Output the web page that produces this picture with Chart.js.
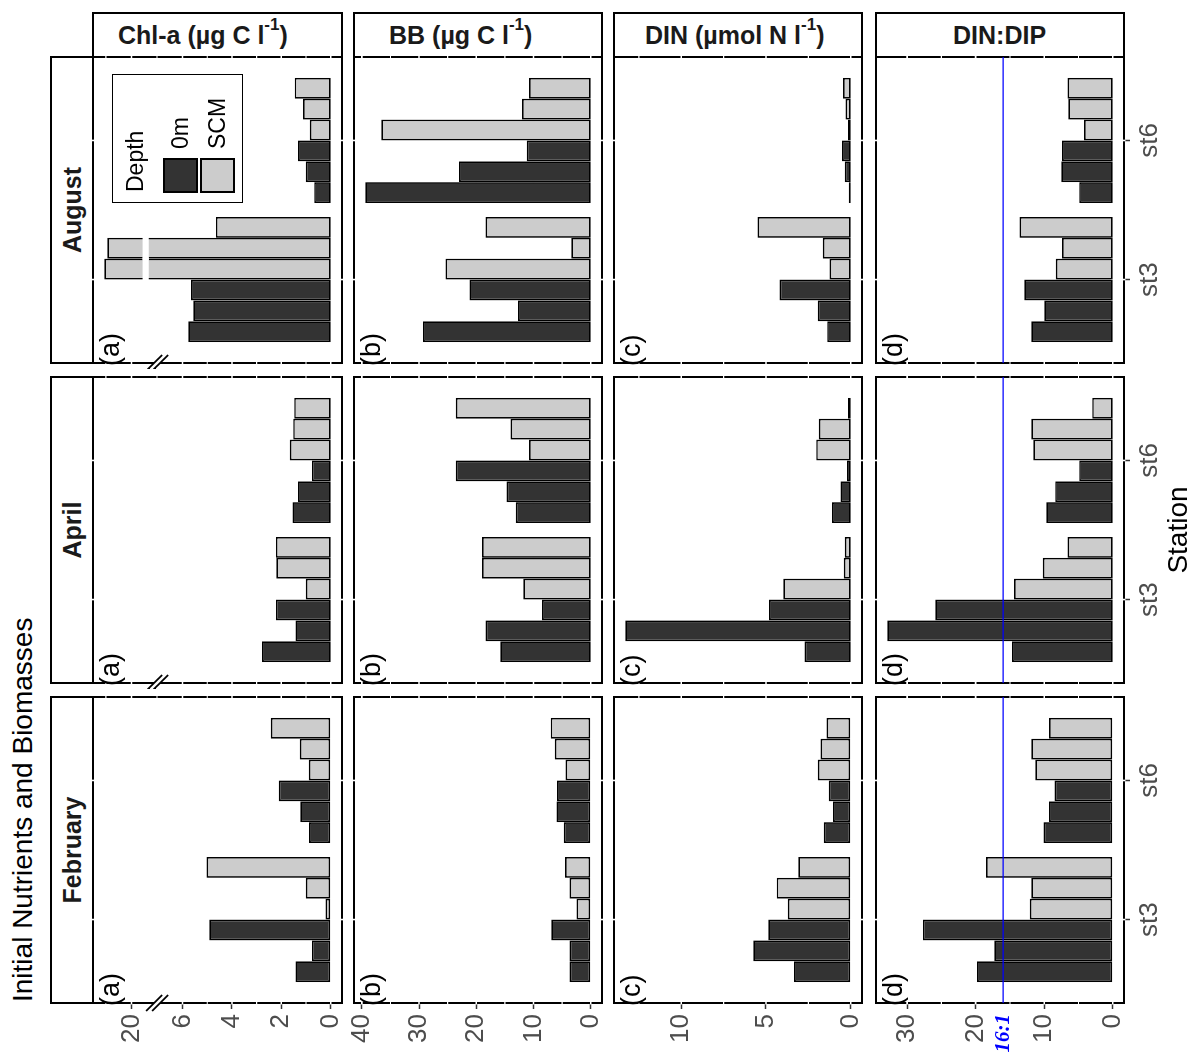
<!DOCTYPE html>
<html lang="en">
<head>
<meta charset="utf-8">
<title>Initial Nutrients and Biomasses</title>
<script src="https://cdn.jsdelivr.net/npm/chart.js@4.4.1/dist/chart.umd.min.js"></script>
<style>
  html, body { margin: 0; padding: 0; background: #fff; }
  body { width: 1200px; height: 1052px; overflow: hidden; position: relative; font-family: "Liberation Sans", Arial, sans-serif; }
  /* the figure is laid out upright (months across, variables down) and then turned a quarter turn */
  #fig { position: absolute; left: 0; top: 0; width: 1052px; height: 1200px; transform-origin: 0 0; transform: translate(0, 1052px) rotate(-90deg); }
  #fig > * { position: absolute; }
  .strip { box-sizing: border-box; border: 2px solid #000; background: #fff; display: flex; align-items: center; justify-content: center; font-weight: bold; font-size: 25px; color: #1a1a1a; white-space: nowrap; }
  .vstrip { writing-mode: vertical-rl; }
  .vstrip span { position: relative; }
  .strip sup { font-size: 17px; line-height: 0; }
  .title { font-size: 28px; line-height: 1; color: #000; white-space: nowrap; }
  .tag { font-size: 27px; line-height: 1; color: #000; white-space: nowrap; }
  .legend { box-sizing: border-box; border: 1px solid #000; background: #fff; font-size: 23px; line-height: 1; color: #000; }
  .legend > * { position: absolute; white-space: nowrap; }
  .key { box-sizing: border-box; width: 35px; height: 35px; border: 2px solid #000; }
</style>
</head>
<body>
<div id="fig"></div>
<script>
// facets
const months = ['February', 'April', 'August'];
const stations = ['st3', 'st6'];
const depths = ['0m', 'SCM'];

// each panel: st3 then st6; per station 0m replicates 1-3, then SCM replicates 1-3
const chlFeb = [1.43, 0.76, 4.92, 0.21, 1.01, 5.03,  0.88, 1.23, 2.10, 0.89, 1.25, 2.43];
const chlApr = [2.78, 1.43, 2.22, 1.01, 2.20, 2.22,  1.55, 1.32, 0.76, 1.66, 1.52, 1.48];
const chlAug = [5.77, 5.57, 5.66, 21.1, 20.98, 4.65,  0.67, 1.01, 1.32, 0.85, 1.12, 1.46];
const bbFeb = [3.7, 3.7, 6.9, 2.5, 3.7, 4.5,  4.7, 6.0, 5.9, 4.4, 6.3, 7.0];
const bbApr = [15.8, 18.4, 8.5, 11.8, 19.0, 19.0,  13.1, 14.7, 23.6, 10.8, 14.0, 23.6];
const bbAug = [29.3, 12.7, 21.2, 25.4, 3.4, 18.4,  39.4, 23.0, 11.2, 36.6, 12.0, 10.8];
const dinFeb = [3.35, 5.75, 4.86, 3.71, 4.37, 3.10,  1.59, 1.04, 1.29, 1.94, 1.78, 1.43];
const dinApr = [2.73, 13.3, 4.82, 3.98, 0.41, 0.35,  1.10, 0.61, 0.22, 2.04, 1.88, 0.16];
const dinAug = [1.39, 1.94, 4.2, 1.25, 1.65, 5.5,  0.12, 0.35, 0.51, 0.16, 0.31, 0.45];
const ratioFeb = [19.8, 17.3, 27.7, 12.1, 11.9, 18.5,  10.1, 9.3, 8.5, 11.3, 11.9, 9.3];
const ratioApr = [14.7, 32.9, 25.9, 14.4, 10.2, 6.6,  9.7, 8.4, 4.9, 11.6, 11.9, 3.0];
const ratioAug = [11.9, 10.0, 12.9, 8.3, 7.4, 13.6,  4.9, 7.5, 7.4, 4.2, 6.5, 6.6];

// value axis ticks
const chlTicks = [0, 2, 4, 6, 20];
const bbTicks = [0, 10, 20, 30, 40];
const dinTicks = [0, 5, 10];
const ratioTicks = [0, 10, 20, 30];
const redfield = 16; // DIN:DIP reference, labelled 16:1

// Chl-a axis is broken: everything above the break is pulled down so 20 sits just past 6
const chlBreak = 7, chlShift = 11.93;
const chlGap = [19.3, 19.55]; // white cut through the long bars

const FONT = '"Liberation Sans", Arial, sans-serif';
Chart.defaults.font.family = FONT;

const rows = [
  {data: [chlFeb, chlApr, chlAug], ticks: chlTicks, tag: '(a)', label: 'Chl-a (µg C l<sup>-1</sup>)', shift: -15},
  {data: [bbFeb, bbApr, bbAug], ticks: bbTicks, tag: '(b)', label: 'BB (µg C l<sup>-1</sup>)', shift: -17},
  {data: [dinFeb, dinApr, dinAug], ticks: dinTicks, tag: '(c)', label: 'DIN (µmol N l<sup>-1</sup>)', shift: -3},
  {data: [ratioFeb, ratioApr, ratioAug], ticks: ratioTicks, tag: '(d)', label: 'DIN:DIP', shift: 0}
];

// panel boxes in the upright figure
const colLeft = [49, 369, 689], colRight = [355, 675, 995];
const rowTop = [93, 354, 614, 876], rowBottom = [342, 602, 862, 1124];

const toBroken = v => v > chlBreak ? v - chlShift : v;

// linear scale with the Chl-a break folded in
const LinearScale = Chart.LinearScale || Chart.registry.getScale('linear');
class BrokenScale extends LinearScale {
  getPixelForValue(v) { return super.getPixelForValue(toBroken(v)); }
  getValueForPixel(p) { const t = super.getValueForPixel(p); return t > chlBreak ? t + chlShift : t; }
}
BrokenScale.id = 'broken';
BrokenScale.defaults = LinearScale.defaults;
Chart.register(BrokenScale);

// ggplot-like expansion: 5% on each side of [0, max]
rows.forEach((row, r) => {
  const all = row.data.flat().map(r === 0 ? toBroken : v => v);
  const top = Math.max(...all);
  row.min = -0.05 * top;
  row.max = 1.05 * top;
});

// frame, white grid lines (visible only where they cross the frame), break marks, 16:1 line
const panelPlugin = {
  id: 'panel',
  beforeDatasetsDraw(chart, args, o) {
    const {ctx, chartArea: a} = chart;
    const ys = chart.scales.y, xs = chart.scales.x;
    ctx.save();
    ctx.strokeStyle = '#000';
    ctx.lineWidth = 2;
    ctx.strokeRect(a.left, a.top, a.right - a.left, a.bottom - a.top);
    const major = o.grid.map(v => ys.getPixelForValue(v));
    const lines = major.map(p => [p, 1.6]);
    for (let i = 1; i < major.length; i++) lines.push([(major[i - 1] + major[i]) / 2, 1.1]);
    const n = major.length;
    lines.push([major[n - 1] + (major[n - 1] - major[n - 2]) / 2, 1.1]);
    ctx.strokeStyle = '#fff';
    lines.forEach(([p, w]) => {
      if (p < a.top || p > a.bottom) return;
      ctx.lineWidth = w;
      ctx.beginPath(); ctx.moveTo(a.left - 1.5, p); ctx.lineTo(a.right + 1.5, p); ctx.stroke();
    });
    stations.forEach((s, i) => {
      const p = xs.getPixelForValue(i + 1);
      ctx.lineWidth = 1.6;
      ctx.beginPath(); ctx.moveTo(p, a.top - 1.5); ctx.lineTo(p, a.bottom + 1.5); ctx.stroke();
    });
    ctx.restore();
  },
  afterDatasetsDraw(chart, args, o) {
    const {ctx, chartArea: a} = chart;
    const ys = chart.scales.y;
    ctx.save();
    if (o.gap) {
      const g0 = ys.getPixelForValue(o.gap[1]), g1 = ys.getPixelForValue(o.gap[0]);
      ctx.fillStyle = '#fff';
      chart.data.datasets.forEach((ds, i) => {
        chart.getDatasetMeta(i).data.forEach((bar, j) => {
          if (ds.data[j].y > o.gap[1]) ctx.fillRect(bar.x - bar.width / 2 - 1.5, g0, bar.width + 3, g1 - g0);
        });
      });
    }
    if (o.refLine != null) {
      const p = ys.getPixelForValue(o.refLine);
      ctx.strokeStyle = '#0000ff';
      ctx.lineWidth = 1.3;
      ctx.beginPath(); ctx.moveTo(a.left, p); ctx.lineTo(a.right, p); ctx.stroke();
    }
    ctx.restore();
  },
  afterDraw(chart, args, o) {
    if (!o.breakAt) return;
    const {ctx, chartArea: a} = chart;
    const ys = chart.scales.y;
    const yb = (ys.getPixelForValue(o.breakAt[0]) + ys.getPixelForValue(o.breakAt[1])) / 2;
    const x = a.left, d = 8, s = 3;
    ctx.save();
    ctx.fillStyle = '#fff';
    ctx.beginPath();
    ctx.moveTo(x - d, yb - d - s); ctx.lineTo(x + d, yb + d - s);
    ctx.lineTo(x + d, yb + d + s); ctx.lineTo(x - d, yb - d + s);
    ctx.closePath(); ctx.fill();
    ctx.strokeStyle = '#000';
    ctx.lineWidth = 1.8;
    [-s, s].forEach(off => {
      ctx.beginPath(); ctx.moveTo(x - d, yb - d + off); ctx.lineTo(x + d, yb + d + off); ctx.stroke();
    });
    ctx.restore();
  }
};

const fig = document.getElementById('fig');
function addDiv(cls, x, y, w, h, html) {
  const d = document.createElement('div');
  d.className = cls;
  d.style.left = x + 'px';
  d.style.top = y + 'px';
  if (w != null) d.style.width = w + 'px';
  if (h != null) d.style.height = h + 'px';
  d.innerHTML = html;
  fig.appendChild(d);
  return d;
}

// strips
months.forEach((m, c) => addDiv('strip', colLeft[c] - 1, 50, colRight[c] - colLeft[c] + 2, 44, m));
rows.forEach((row, r) => addDiv('strip vstrip', 994, rowTop[r] - 1, 46, rowBottom[r] - rowTop[r] + 2,
  '<span style="top:' + row.shift + 'px">' + row.label + '</span>'));

// panels
rows.forEach((row, r) => {
  months.forEach((m, c) => {
    const vals = row.data[c];
    const x0 = c === 0 ? 0 : colLeft[c] - 6, x1 = colRight[c] + 6;
    const y0 = rowTop[r] - 6, y1 = r === 3 ? rowBottom[r] + 52 : rowBottom[r] + 6;
    const cv = document.createElement('canvas');
    cv.width = x1 - x0;
    cv.height = y1 - y0;
    cv.style.left = x0 + 'px';
    cv.style.top = y0 + 'px';
    fig.appendChild(cv);

    const datasets = [0, 1, 2, 3, 4, 5].map(k => ({
      label: depths[k < 3 ? 0 : 1],
      data: stations.map((s, j) => ({x: j + 1, y: vals[j * 6 + k]})),
      backgroundColor: k < 3 ? '#333333' : '#cccccc',
      borderColor: '#000',
      borderWidth: 1.7,
      borderSkipped: false,
      barPercentage: 1,
      categoryPercentage: 0.9
    }));

    const labelTicks = r === 3 ? [...row.ticks, redfield].sort((p, q) => p - q) : row.ticks;
    const isRef = ctx => r === 3 && ctx.tick && ctx.tick.value === redfield;

    new Chart(cv, {
      type: 'bar',
      data: {datasets},
      plugins: [panelPlugin],
      options: {
        responsive: false,
        animation: false,
        devicePixelRatio: 1,
        events: [],
        layout: {autoPadding: false, padding: {left: c === 0 ? 0 : 6, right: 6, top: 6, bottom: r === 3 ? 0 : 6}},
        plugins: {
          legend: {display: false},
          tooltip: {enabled: false},
          panel: {
            grid: row.ticks,
            gap: r === 0 ? chlGap : null,
            breakAt: r === 0 ? [6, 20] : null,
            refLine: r === 3 ? redfield : null
          }
        },
        scales: {
          x: {
            type: 'linear', min: 0.4, max: 2.6, offset: false, bounds: 'data',
            display: r === 3,
            afterBuildTicks: s => { s.ticks = stations.map((st, i) => ({value: i + 1})); },
            afterFit: s => { if (r === 3) { s.height = 52; s.paddingLeft = 0; s.paddingRight = 0; } },
            ticks: {
              autoSkip: false, maxRotation: 0, minRotation: 0, padding: 4,
              color: '#4d4d4d', font: {family: FONT, size: 26},
              callback: v => stations[v - 1]
            },
            grid: {offset: false, drawOnChartArea: false, tickLength: 6, tickWidth: 1.5, tickColor: '#333'},
            border: {display: false}
          },
          y: {
            type: r === 0 ? 'broken' : 'linear',
            min: row.min, max: row.max, bounds: 'data',
            display: c === 0,
            afterBuildTicks: s => { s.ticks = labelTicks.map(v => ({value: v})); },
            afterFit: s => { if (c === 0) { s.width = 49; s.paddingTop = 0; s.paddingBottom = 0; } },
            ticks: {
              autoSkip: false, padding: 5,
              color: ctx => isRef(ctx) ? '#0000ff' : '#4d4d4d',
              font: ctx => isRef(ctx)
                ? {family: '"Liberation Serif", "Times New Roman", serif', size: 21, weight: 'bold', style: 'italic'}
                : {family: FONT, size: 26},
              callback: v => (r === 3 && v === redfield) ? '16:1' : String(v)
            },
            grid: {
              drawOnChartArea: false, tickLength: 6, tickWidth: 1.5,
              tickColor: ctx => isRef(ctx) ? 'rgba(0,0,0,0)' : '#333'
            },
            border: {display: false}
          }
        }
      }
    });

    addDiv('tag', colLeft[c] - 3, rowTop[r] + 4, null, null, row.tag);
  });
});

// legend (inside the August Chl-a panel)
const lg = addDiv('legend', 849, 112, 129, 131, '');
lg.innerHTML =
  '<div style="left:10px;top:11px">Depth</div>' +
  '<div class="key" style="left:9px;top:50px;background:#333333"></div>' +
  '<div class="key" style="left:9px;top:87px;background:#cccccc"></div>' +
  '<div style="left:53px;top:56px">' + depths[0] + '</div>' +
  '<div style="left:53px;top:93px">' + depths[1] + '</div>';

// axis titles
addDiv('title', 50, 9, null, null, 'Initial Nutrients and Biomasses');
addDiv('title', 49, 1164, 946, null, 'Station').style.textAlign = 'center';
</script>
</body>
</html>
